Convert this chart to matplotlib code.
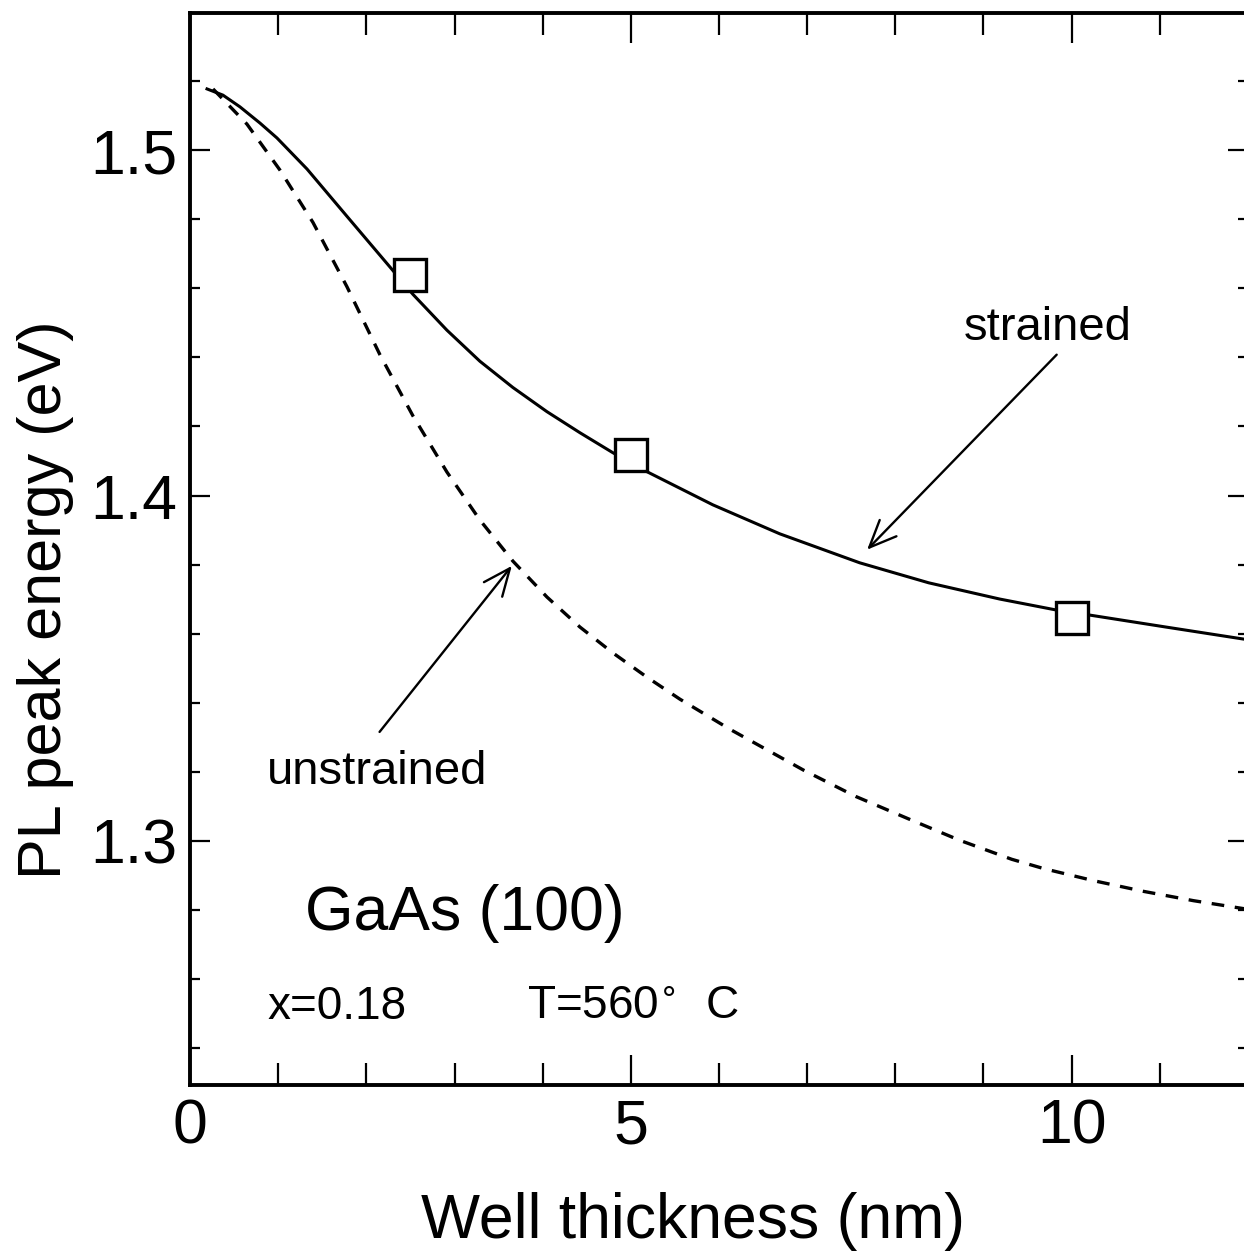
import numpy as np
import matplotlib
matplotlib.use("Agg")
import matplotlib.pyplot as plt
from matplotlib.ticker import MultipleLocator

plt.rcParams['font.family'] = ['Liberation Sans', 'DejaVu Sans']

# calculated PL peak energies (eV) vs well thickness (nm)
strained_x = [0.193, 0.374, 0.567, 0.794, 0.986, 1.327, 1.780, 2.268, 2.528,
              2.914, 3.288, 3.662, 4.048, 4.422, 4.796, 5.136, 5.930, 6.689,
              7.596, 8.379, 9.184, 9.830, 10.193, 11.066, 11.950, 12.0]
strained_e = [1.5178, 1.5160, 1.5126, 1.5079, 1.5036, 1.4946, 1.4809, 1.4662,
              1.4583, 1.4479, 1.4389, 1.4313, 1.4243, 1.4182, 1.4124, 1.4075,
              1.3973, 1.3889, 1.3805, 1.3747, 1.3700, 1.3668, 1.3654, 1.3619,
              1.3584, 1.3583]

unstrained_x = [0.261, 0.646, 1.020, 1.395, 1.780, 2.154, 2.528, 2.914, 3.288,
                3.662, 4.048, 4.422, 4.796, 5.181, 5.556, 6.122, 6.961, 7.551,
                8.141, 8.730, 9.320, 9.683, 10.249, 10.816, 11.383, 11.950, 12.0]
unstrained_e = [1.5178, 1.5076, 1.4943, 1.4791, 1.4605, 1.4408, 1.4231, 1.4068,
                1.3929, 1.3810, 1.3706, 1.3619, 1.3544, 1.3474, 1.3410, 1.3323,
                1.3204, 1.3128, 1.3064, 1.3001, 1.2946, 1.2919, 1.2884, 1.2853,
                1.2826, 1.2803, 1.2802]

# measured points
meas_x = [2.5, 5.0, 10.0]
meas_e = [1.4638, 1.4118, 1.3645]

W, H = 1244, 1252
fig = plt.figure(figsize=(W / 100, H / 100), dpi=100)
left, right, top, bottom = 190, 1248, 13, 1085
ax = fig.add_axes([left / W, (H - bottom) / H, (right - left) / W, (bottom - top) / H])

ax.plot(strained_x, strained_e, color='black', lw=2.2, solid_joinstyle='round')
ax.plot(unstrained_x, unstrained_e, color='black', lw=2.4, linestyle=(0, (3.8, 3.2)))
ax.plot(meas_x, meas_e, linestyle='none', marker='s', markersize=23,
        markerfacecolor='white', markeredgecolor='black', markeredgewidth=2.4, zorder=5)

ax.set_xlim(0, 12)
ax.set_ylim(1.2292, 1.5398)

ax.xaxis.set_minor_locator(MultipleLocator(1))
ax.yaxis.set_minor_locator(MultipleLocator(0.02))
ax.set_xticks([0, 5, 10])
ax.set_xticklabels(['0', '5', '10'])
ax.set_yticks([1.3, 1.4, 1.5])
ax.set_yticklabels(['1.3', '1.4', '1.5'])

ax.tick_params(axis='x', which='major', direction='in', length=21.5, width=1.6,
               top=True, bottom=True, labelsize=45, pad=9)
ax.tick_params(axis='x', which='minor', direction='in', length=15.5, width=1.6,
               top=True, bottom=True)
ax.tick_params(axis='y', which='major', direction='in', length=14.5, width=1.6,
               left=True, right=True, labelsize=45, pad=9)
ax.tick_params(axis='y', which='minor', direction='in', length=7.5, width=1.6,
               left=True, right=True)
for s in ax.spines.values():
    s.set_linewidth(2.8)

ax.text(-0.137, 0.453, 'PL peak energy (eV)', transform=ax.transAxes, rotation=90,
        ha='center', va='center', fontsize=44)
ax.text(0.4754, -0.143, 'Well thickness (nm)', transform=ax.transAxes,
        ha='center', va='baseline', fontsize=45)

ax.text(1.30, 1.2741, 'GaAs (100)', fontsize=45, ha='left', va='baseline')
ax.text(0.88, 1.2484, 'x=0.18', fontsize=33, ha='left', va='baseline')
ax.text(3.82, 1.2484, 'T=560$^{\\circ}$  C', fontsize=33, ha='left', va='baseline')

ax.text(9.73, 1.4484, 'strained', fontsize=34, ha='center', va='center')
ax.text(2.12, 1.3198, 'unstrained', fontsize=34, ha='center', va='center')

arrow = dict(arrowstyle='->, head_length=0.65, head_width=0.28', lw=1.7,
             color='black', mutation_scale=30, shrinkA=0, shrinkB=0)
ax.annotate('', xy=(7.68, 1.3843), xytext=(9.83, 1.4408), arrowprops=arrow)
ax.annotate('', xy=(3.65, 1.3796), xytext=(2.15, 1.3315), arrowprops=arrow)

fig.savefig('out.png', dpi=100, facecolor='white')
